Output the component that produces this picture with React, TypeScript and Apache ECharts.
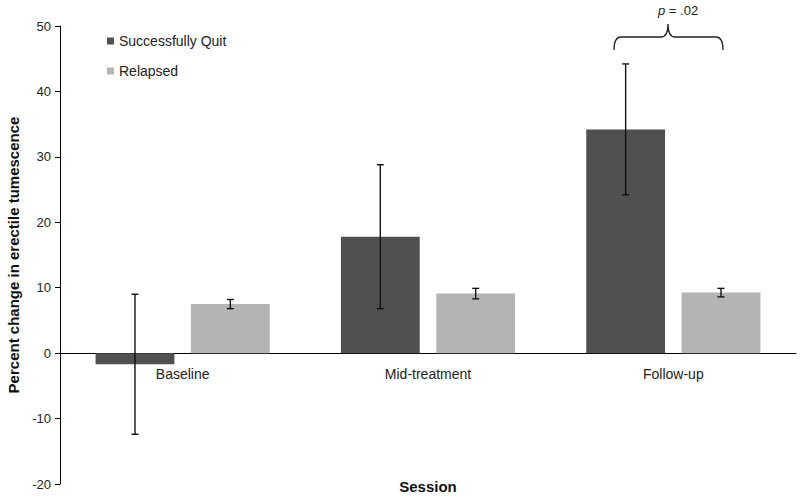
import React, { useEffect, useRef } from "react";
import * as echarts from "echarts";

const categories = ["Baseline", "Mid-treatment", "Follow-up"];
const quitValues = [-1.7, 17.8, 34.2];
const quitErrors = [10.7, 11.0, 10.0];
const relapsedValues = [7.5, 9.1, 9.25];
const relapsedErrors = [0.7, 0.8, 0.65];
const seriesNames = ["Successfully Quit", "Relapsed"];
const yTicks = { min: -20, max: 50, interval: 10 };

const FONT = "'Liberation Sans', Arial, Helvetica, sans-serif";
const BAR_GAP = 0.21;
const CAT_GAP = 0.29;

const bracePath =
  "M614,50 Q614,37 621,37 L661,37 Q668,37 668,24 Q668,37 675,37 L716,37 Q723,37 723,50";

let registered = false;
function ensureShapes() {
  if (registered) return;
  echarts.graphic.registerShape("brace", echarts.graphic.extendPath(bracePath, {}) as any);
  registered = true;
}

export default function App() {
  const ref = useRef<HTMLDivElement>(null);
  useEffect(() => {
    if (!ref.current) return;
    ensureShapes();
    const chart = echarts.init(ref.current, undefined, { renderer: "svg" });

    const errData: number[][] = [];
    quitValues.forEach((v, i) => errData.push([i, v - quitErrors[i], v + quitErrors[i], -1]));
    relapsedValues.forEach((v, i) => errData.push([i, v - relapsedErrors[i], v + relapsedErrors[i], 1]));

    chart.setOption({
      animation: false,
      textStyle: { fontFamily: FONT },
      grid: { left: 60, right: 4, top: 26, bottom: 14, containLabel: false, outerBoundsMode: "none" },
      legend: {
        orient: "vertical",
        left: 102,
        top: 29,
        itemWidth: 7,
        itemHeight: 7,
        itemGap: 16,
        icon: "rect",
        data: seriesNames,
        textStyle: { fontSize: 14, color: "#222", fontFamily: FONT },
      },
      xAxis: {
        type: "category",
        data: categories,
        name: "Session",
        nameLocation: "middle",
        nameGap: 2,
        nameTextStyle: { fontSize: 15, fontWeight: "bold", color: "#111", fontFamily: FONT, verticalAlign: "middle", padding: 0 },
        axisLine: { onZero: true, lineStyle: { color: "#000", width: 1 } },
        axisTick: { show: false },
        axisLabel: { fontSize: 14, color: "#222", margin: -117, fontFamily: FONT },
      },
      yAxis: {
        type: "value",
        min: yTicks.min,
        max: yTicks.max,
        interval: yTicks.interval,
        name: "Percent change in erectile tumescence",
        nameLocation: "middle",
        nameGap: 38,
        nameTextStyle: { fontSize: 15, fontWeight: "bold", color: "#111", fontFamily: FONT },
        axisLine: { show: true, lineStyle: { color: "#000", width: 1 } },
        axisTick: { show: true, length: 5, lineStyle: { color: "#000" } },
        axisLabel: { fontSize: 13, color: "#222", margin: 9, fontFamily: FONT },
        splitLine: { show: false },
      },
      series: [
        {
          name: seriesNames[0],
          type: "bar",
          data: quitValues,
          itemStyle: { color: "#505050" },
          barGap: `${BAR_GAP * 100}%`,
          barCategoryGap: `${CAT_GAP * 100}%`,
        },
        {
          name: seriesNames[1],
          type: "bar",
          data: relapsedValues,
          itemStyle: { color: "#b4b4b4" },
          barGap: `${BAR_GAP * 100}%`,
          barCategoryGap: `${CAT_GAP * 100}%`,
        },
        {
          type: "custom",
          name: "errors",
          data: errData,
          encode: { x: 0, y: [1, 2] },
          z: 10,
          renderItem: (params: any, api: any) => {
            const cat = api.value(0);
            const lo = api.value(1);
            const hi = api.value(2);
            const side = api.value(3);
            const top = api.coord([cat, hi]);
            const bot = api.coord([cat, lo]);
            const catW = api.size([1, 0])[0];
            const barW = (catW * (1 - CAT_GAP)) / (2 + BAR_GAP);
            const x = top[0] + (side * barW * (1 + BAR_GAP)) / 2;
            const cap = 3.5;
            const style = { stroke: "#111", lineWidth: 1.4 };
            return {
              type: "group",
              children: [
                { type: "line", shape: { x1: x, y1: top[1], x2: x, y2: bot[1] }, style },
                { type: "line", shape: { x1: x - cap, y1: top[1], x2: x + cap, y2: top[1] }, style },
                { type: "line", shape: { x1: x - cap, y1: bot[1], x2: x + cap, y2: bot[1] }, style },
              ],
            };
          },
        },
      ],
      graphic: [
        {
          type: "brace",
          x: 0,
          y: 0,
          style: { fill: "none", stroke: "#222", lineWidth: 1.3 },
        } as any,
        {
          type: "text",
          left: 658,
          top: 4,
          style: {
            text: "{i|p} = .02",
            fontSize: 13,
            fill: "#222",
            fontFamily: FONT,
            rich: { i: { fontStyle: "italic", fontSize: 13, fontFamily: FONT, fill: "#222" } },
          },
        },
      ],
    });
    return () => chart.dispose();
  }, []);
  return (
    <div
      ref={ref}
      style={{ position: "absolute", left: 0, top: 0, width: 800, height: 498 }}
    />
  );
}
